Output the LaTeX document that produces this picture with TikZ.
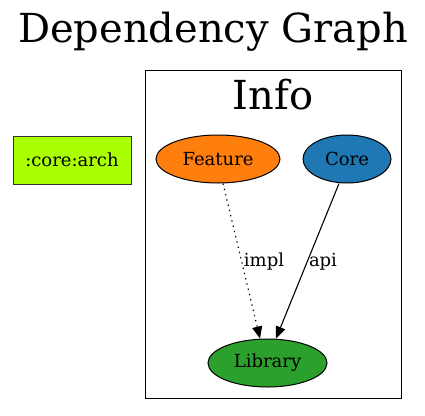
\documentclass[tikz,border=0pt]{standalone}
\usepackage{fontspec}
\setmainfont{DejaVu Serif}
\usetikzlibrary{shapes.geometric,arrows.meta}
\definecolor{featorange}{HTML}{FF7F0E}
\definecolor{coreblue}{HTML}{1F77B4}
\definecolor{libgreen}{HTML}{2CA02C}
\definecolor{archgreen}{HTML}{AAFF00}
\tikzset{
  gnode/.style={ellipse,draw=black,line width=1pt,inner sep=0pt,minimum height=48pt,font=\fontsize{18}{21}\selectfont},
  elabel/.style={inner sep=0pt,font=\fontsize{18}{21}\selectfont},
  bigtext/.style={inner sep=0pt,font=\fontsize{40}{48}\selectfont},
  edge/.style={line width=1.1pt,-{Triangle[length=12pt,width=10pt]}},
}
\begin{document}
\begin{tikzpicture}[x=1pt,y=-1pt]
\useasboundingbox (0,0) rectangle (425,415);
\node[bigtext] (title) at (213,32) {Dependency Graph};
\node[draw=black,line width=0.8pt,minimum width=256pt,minimum height=328pt,inner sep=0pt] (cluster) at (273,234) {};
\node[bigtext] (info) at (273,95) {Info};
\node[draw=black!80,line width=1pt,fill=archgreen,minimum width=118pt,minimum height=48pt,inner sep=0pt,font=\fontsize{18}{21}\selectfont] (arch) at (72,160) {:core:arch};
\node[gnode,fill=featorange,minimum width=124pt] (feat) at (218,159) {Feature};
\node[gnode,fill=coreblue,minimum width=88pt] (core) at (347,159) {Core};
\node[gnode,fill=libgreen,minimum width=119pt] (lib) at (267.5,363) {Library};
\draw[edge,dash pattern=on 1.4pt off 4pt] ([xshift=5pt]feat.south) -- ([xshift=-7.5pt]lib.north);
\draw[edge] ([xshift=-8pt]core.south) -- ([xshift=8.5pt]lib.north);
\node[elabel] (impl) at (264,262) {impl};
\node[elabel] (api) at (323,262) {api};
\end{tikzpicture}
\end{document}
